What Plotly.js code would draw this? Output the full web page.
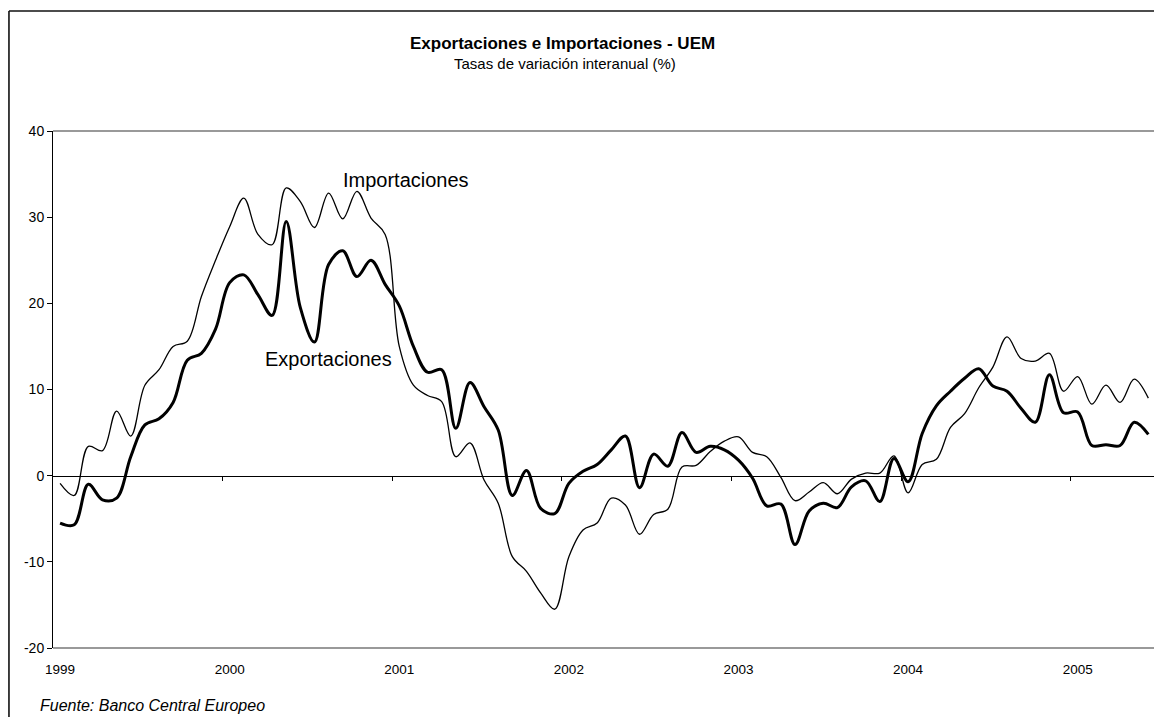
<!DOCTYPE html>
<html>
<head>
<meta charset="utf-8">
<script src="https://cdn.plot.ly/plotly-3.0.1.min.js"></script>
<style>html,body{margin:0;padding:0;background:#fff;overflow:hidden}</style>
</head>
<body>
<div id="chart" style="width:1154px;height:717px"></div>
<script>
// Monthly year-on-year rates, Jan 1999 - Jun 2005
const years = ['1999','2000','2001','2002','2003','2004','2005'];
const yTickVals = [-20, -10, 0, 10, 20, 30, 40];
const yTickText = ['-20', '-10', '0', '10', '20', '30', '40'];

const importaciones = [
  -0.9, -2.3, 3.4, 2.9, 7.5, 4.6, 10.5, 12.3, 15.0, 15.6, 20.8, 25.0,
  28.9, 32.2, 28.0, 26.8, 33.4, 31.8, 28.8, 32.8, 29.8, 33.0, 29.9, 28.0,
  15.0, 10.5, 9.3, 8.6, 2.2, 3.8, -0.5, -3.2, -9.4, -11.1, -13.6, -15.5,
  -9.4, -6.3, -5.5, -2.6, -3.4, -6.8, -4.5, -3.9, 1.0, 1.2, 2.8, 4.0,
  4.5, 2.7, 2.2, -0.2, -2.9, -1.9, -0.8, -2.1, -0.4, 0.3, 0.3, 2.3,
  -2.0, 1.3, 1.9, 5.6, 7.2, 10.2, 12.6, 16.1, 13.6, 13.3, 14.2, 9.8,
  11.5, 8.3, 10.5, 8.5, 11.2, 9.0
];

const exportaciones = [
  -5.5, -5.7, -1.0, -2.8, -2.6, 2.2, 5.9, 6.6, 8.5, 13.4, 14.2, 17.0,
  22.4, 23.3, 21.0, 18.6, 29.5, 19.5, 15.5, 24.5, 26.1, 23.1, 25.0, 22.2,
  19.7, 15.0, 12.0, 12.3, 5.5, 10.8, 8.0, 5.3, -2.3, 0.6, -3.8, -4.4,
  -0.9, 0.5, 1.3, 3.0, 4.6, -1.4, 2.5, 1.1, 5.0, 2.7, 3.4, 3.0,
  1.8, -0.3, -3.5, -3.3, -8.0, -4.1, -3.2, -3.7, -1.3, -0.6, -3.0, 2.0,
  -0.7, 4.9, 8.1, 9.8, 11.3, 12.4, 10.4, 9.8, 7.8, 6.2, 11.7, 7.3,
  7.4, 3.5, 3.6, 3.5, 6.2, 4.8
];

const monthIndex = importaciones.map((_, i) => i);
const yearTickVals = years.map((_, i) => i * 12);
const yearBoundaries = years.slice(1).map((_, i) => (i + 1) * 12 - 0.5);

const FONT = 'Liberation Sans, Arial, sans-serif';
const xRange = [-0.5, 77.4];

const traces = [
  {
    x: monthIndex, y: importaciones, name: 'Importaciones',
    type: 'scatter', mode: 'lines', xaxis: 'x', yaxis: 'y',
    line: {color: '#000', width: 1.3, shape: 'spline', smoothing: 1},
    hoverinfo: 'y'
  },
  {
    x: monthIndex, y: exportaciones, name: 'Exportaciones',
    type: 'scatter', mode: 'lines', xaxis: 'x2', yaxis: 'y',
    line: {color: '#000', width: 3, shape: 'spline', smoothing: 1},
    hoverinfo: 'y'
  }
];

const layout = {
  width: 1154, height: 717, autosize: false,
  margin: {l: 53, r: 0, t: 131, b: 69},
  paper_bgcolor: '#fff', plot_bgcolor: '#fff',
  showlegend: false,
  font: {family: FONT, color: '#000', size: 13},
  xaxis: {
    range: xRange, anchor: 'y', side: 'bottom',
    tickmode: 'array', tickvals: yearTickVals, ticktext: years,
    ticks: 'outside', ticklen: 9, tickcolor: 'rgba(0,0,0,0)',
    showline: false, showgrid: false, zeroline: false,
    tickfont: {family: FONT, size: 13.5, color: '#000'}
  },
  xaxis2: {
    range: xRange, overlaying: 'x', anchor: 'free', position: 1/3,
    tickmode: 'array', tickvals: yearBoundaries,
    ticks: 'outside', ticklen: 4, tickcolor: '#000', tickwidth: 1,
    showticklabels: false, showline: true, linecolor: '#000', linewidth: 1,
    showgrid: false, zeroline: false
  },
  yaxis: {
    range: [-20, 40], tickmode: 'array', tickvals: yTickVals, ticktext: yTickText,
    ticks: 'outside', ticklen: 5, tickcolor: '#000',
    showline: true, linecolor: '#000', linewidth: 1,
    showgrid: false, zeroline: false,
    tickfont: {family: FONT, size: 14, color: '#000'}
  },
  shapes: [
    {type: 'line', xref: 'paper', yref: 'paper', x0: 0, x1: 1, y0: 1, y1: 1,
     line: {color: '#999', width: 2}},
    {type: 'line', xref: 'paper', yref: 'paper', x0: 0, x1: 1, y0: 0, y1: 0,
     line: {color: '#999', width: 2}},
    {type: 'line', xref: 'paper', yref: 'paper', x0: -0.04, x1: 1.01, y0: 1.2321, y1: 1.2321,
     line: {color: '#111', width: 1.6}},
    {type: 'line', xref: 'paper', yref: 'paper', x0: -0.04, x1: -0.04, y0: 1.2321, y1: -0.2,
     line: {color: '#111', width: 1.6}}
  ],
  annotations: [
    {text: '<b>Exportaciones e Importaciones - UEM</b>', xref: 'paper', yref: 'paper',
     x: 0.463, y: 1.170, xanchor: 'center', yanchor: 'middle', showarrow: false,
     font: {family: FONT, size: 17, color: '#000'}},
    {text: 'Tasas de variación interanual (%)', xref: 'paper', yref: 'paper',
     x: 0.465, y: 1.1315, xanchor: 'center', yanchor: 'middle', showarrow: false,
     font: {family: FONT, size: 15, color: '#000'}},
    {text: 'Importaciones', xref: 'x', yref: 'y', x: 24.5, y: 34.3,
     xanchor: 'center', yanchor: 'middle', showarrow: false,
     font: {family: FONT, size: 20, color: '#000'}},
    {text: 'Exportaciones', xref: 'x', yref: 'y', x: 19.0, y: 13.5,
     xanchor: 'center', yanchor: 'middle', showarrow: false,
     font: {family: FONT, size: 20, color: '#000'}},
    {text: '<i>Fuente: Banco Central Europeo</i>', xref: 'paper', yref: 'paper',
     x: -0.0136, y: -0.112, xanchor: 'left', yanchor: 'middle', showarrow: false,
     font: {family: FONT, size: 16, color: '#000'}}
  ]
};

Plotly.newPlot('chart', traces, layout, {displayModeBar: false, staticPlot: true});
</script>
</body>
</html>
